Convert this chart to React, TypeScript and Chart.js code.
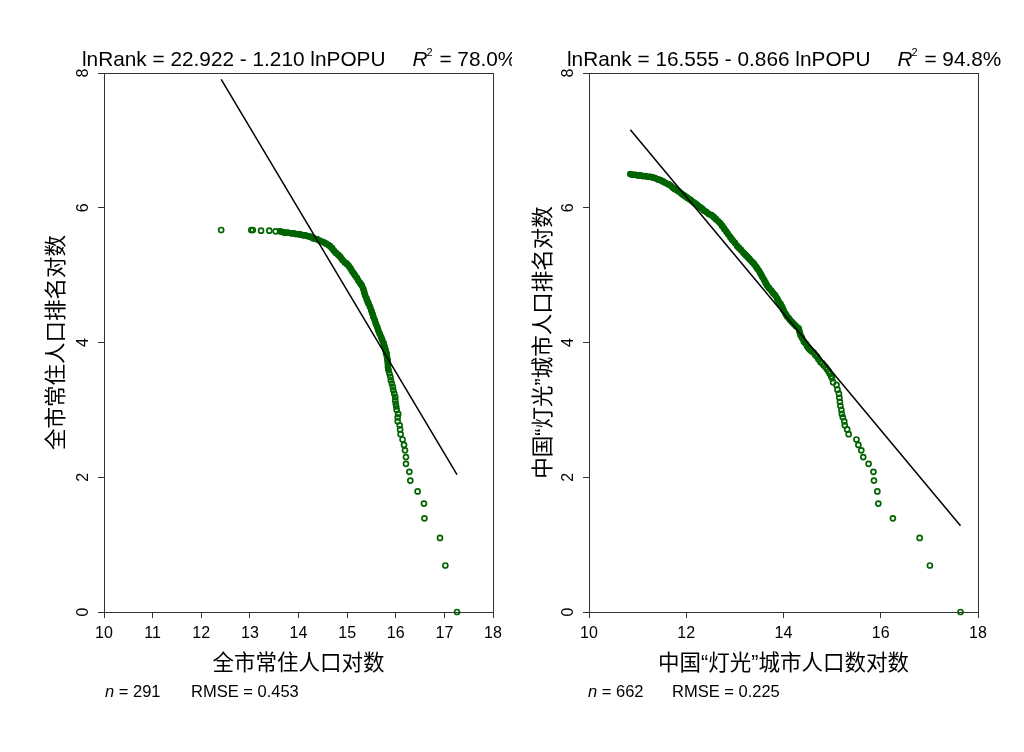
import React, { useEffect, useRef } from 'react';
import { Chart, registerables } from 'chart.js';

Chart.register(...registerables);

const FONT = '"Liberation Sans", Arial, Helvetica, sans-serif';
const CJK = '"Liberation Sans", "Noto Sans CJK SC", sans-serif';
const GREEN = '#006400';

// ---------- Left panel data (lnPOPU, lnRank) ----------
const leftX = [
  12.41, 13.03, 13.06, 13.23, 13.40, 13.53, 13.62, 13.68, 13.72, 13.78,
  13.85, 13.90, 13.95, 14.00, 14.05, 14.10, 14.14, 14.19, 14.24, 14.29,
  14.34, 14.39, 14.44, 14.51, 14.56, 14.61, 14.65, 14.69, 14.73, 14.77,
  14.82, 14.86, 14.90, 14.95, 14.99, 15.03, 15.07, 15.10, 15.13, 15.16,
  15.20, 15.23, 15.27, 15.30, 15.33, 15.35, 15.37, 15.40, 15.42, 15.44,
  15.47, 15.50, 15.52, 15.54, 15.57, 15.59, 15.62, 15.64, 15.67, 15.70,
  15.72, 15.75, 15.77, 15.79, 15.80, 15.82, 15.83, 15.84, 15.84, 15.85,
  15.87, 15.89, 15.90, 15.92, 15.94, 15.95, 15.97, 15.99, 15.99, 16.00,
  16.01, 16.02,
  16.05, 16.04, 16.04, 16.08, 16.09, 16.10, 16.14, 16.17, 16.19, 16.21,
  16.21, 16.28, 16.30, 16.45, 16.58, 16.59, 16.91, 17.02, 17.26,
];
const leftY = [
  5.67, 5.67, 5.67, 5.66, 5.66, 5.65, 5.65, 5.64, 5.63, 5.63,
  5.62, 5.62, 5.61, 5.61, 5.60, 5.59, 5.59, 5.58, 5.57, 5.55,
  5.54, 5.53, 5.51, 5.49, 5.47, 5.45, 5.43, 5.40, 5.36, 5.33,
  5.30, 5.27, 5.23, 5.19, 5.17, 5.14, 5.10, 5.06, 5.03, 5.00,
  4.96, 4.92, 4.88, 4.85, 4.80, 4.75, 4.70, 4.65, 4.61, 4.58,
  4.53, 4.47, 4.43, 4.38, 4.33, 4.28, 4.23, 4.18, 4.13, 4.08,
  4.04, 3.99, 3.94, 3.89, 3.84, 3.79, 3.74, 3.69, 3.64, 3.59,
  3.54, 3.49, 3.44, 3.39, 3.34, 3.29, 3.24, 3.19, 3.14, 3.09,
  3.05, 3.00,
  2.94, 2.89, 2.83, 2.77, 2.71, 2.64, 2.56, 2.48, 2.40, 2.30,
  2.20, 2.08, 1.95, 1.79, 1.61, 1.39, 1.10, 0.69, 0.00,
];
// index range (start, end) where the markers overlap into a solid band
const leftDenseRange = [6, 70];
const leftFitX = [12.41, 17.26];
const leftIntercept = 22.922;
const leftSlope = 1.21;

// ---------- Right panel data ----------
const rightX = [
  10.85, 10.90, 10.95, 11.00, 11.06, 11.11, 11.16, 11.21, 11.26, 11.31,
  11.36, 11.42, 11.47, 11.52, 11.57, 11.63, 11.68, 11.72, 11.76, 11.81,
  11.85, 11.90, 11.94, 11.98, 12.02, 12.06, 12.10, 12.15, 12.19, 12.23,
  12.28, 12.32, 12.36, 12.41, 12.46, 12.52, 12.57, 12.61, 12.66, 12.70,
  12.74, 12.78, 12.82, 12.86, 12.91, 12.95, 13.00, 13.05, 13.09, 13.13,
  13.18, 13.22, 13.26, 13.30, 13.35, 13.39, 13.43, 13.46, 13.50, 13.53,
  13.56, 13.60, 13.63, 13.66, 13.70, 13.75, 13.79, 13.83, 13.87, 13.90,
  13.94, 13.97, 14.00, 14.04, 14.07, 14.11, 14.14, 14.18, 14.22, 14.26,
  14.31, 14.33, 14.35, 14.38, 14.42, 14.46, 14.49, 14.52, 14.55, 14.58,
  14.62, 14.65, 14.69, 14.72, 14.76, 14.80, 14.83, 14.87, 14.90, 14.93,
  14.95, 14.98, 15.00, 15.02, 15.09, 15.11, 15.14, 15.15, 15.16, 15.17,
  15.19,
  15.20, 15.22, 15.25, 15.26, 15.31, 15.34, 15.50, 15.54, 15.60, 15.64,
  15.75, 15.85, 15.86, 15.93, 15.95, 16.25, 16.80, 17.01, 17.64,
];
const rightY = [
  6.50, 6.49, 6.49, 6.48, 6.48, 6.47, 6.47, 6.46, 6.46, 6.45,
  6.44, 6.42, 6.41, 6.39, 6.37, 6.35, 6.33, 6.30, 6.28, 6.26,
  6.24, 6.21, 6.19, 6.17, 6.15, 6.13, 6.11, 6.08, 6.06, 6.04,
  6.01, 5.99, 5.96, 5.94, 5.91, 5.89, 5.86, 5.83, 5.80, 5.77,
  5.73, 5.69, 5.65, 5.61, 5.56, 5.52, 5.48, 5.43, 5.40, 5.37,
  5.33, 5.30, 5.27, 5.24, 5.20, 5.17, 5.13, 5.10, 5.06, 5.02,
  4.98, 4.93, 4.89, 4.85, 4.81, 4.77, 4.73, 4.70, 4.65, 4.61,
  4.57, 4.53, 4.48, 4.43, 4.39, 4.36, 4.33, 4.30, 4.27, 4.24,
  4.21, 4.16, 4.11, 4.07, 4.01, 3.98, 3.94, 3.91, 3.89, 3.87,
  3.85, 3.82, 3.79, 3.75, 3.71, 3.69, 3.66, 3.63, 3.60, 3.57,
  3.54, 3.50, 3.47, 3.41, 3.37, 3.30, 3.24, 3.18, 3.12, 3.06,
  3.00,
  2.94, 2.89, 2.83, 2.77, 2.71, 2.64, 2.56, 2.48, 2.40, 2.30,
  2.20, 2.08, 1.95, 1.79, 1.61, 1.39, 1.10, 0.69, 0.00,
];
const rightDenseRange = [0, 89];
const rightFitX = [10.85, 17.64];
const rightIntercept = 16.555;
const rightSlope = 0.866;

const leftText = {
  eq: 'lnRank = 22.922 - 1.210 lnPOPU',
  r2: '78.0%',
  n: '291',
  rmse: '0.453',
  xTitle: '全市常住人口对数',
  yTitle: '全市常住人口排名对数',
};
const rightText = {
  eq: 'lnRank = 16.555 - 0.866 lnPOPU',
  r2: '94.8%',
  n: '662',
  rmse: '0.225',
  xTitle: '中国“灯光”城市人口数对数',
  yTitle: '中国“灯光”城市人口排名对数',
};

type Spec = {
  xs: number[]; ys: number[]; dense: number[]; fitX: number[]; a: number; b: number;
  text: typeof leftText; xStep: number;
  yWidth: number; padRight: number; yTitlePad: number;
  eqX: number; nX: number; rmseX: number;
};

function annotPlugin(p: Spec) {
  return {
    id: 'annot',
    afterDraw(chart: any) {
      const ctx = chart.ctx as CanvasRenderingContext2D;
      const a = chart.chartArea;
      ctx.save();
      // box
      ctx.strokeStyle = '#333';
      ctx.lineWidth = 1;
      const l = Math.round(a.left) + 0.5;
      const t = Math.round(a.top) + 0.5;
      const r = Math.round(a.right) + 0.5;
      const b = Math.round(a.bottom) + 0.5;
      ctx.strokeRect(l, t, r - l, b - t);
      // equation
      ctx.fillStyle = '#000';
      ctx.textAlign = 'left';
      ctx.textBaseline = 'alphabetic';
      const fs = 20.8;
      ctx.font = `${fs}px ${FONT}`;
      ctx.fillText(p.text.eq, p.eqX, 66);
      let x = p.eqX + ctx.measureText(p.text.eq).width + 27;
      ctx.font = `italic ${fs}px ${FONT}`;
      ctx.fillText('R', x, 66);
      x += ctx.measureText('R').width;
      ctx.font = `11px ${FONT}`;
      ctx.fillText('2', x - 1, 56);
      x += ctx.measureText('2').width;
      ctx.font = `${fs}px ${FONT}`;
      ctx.fillText(' = ' + p.text.r2, x, 66);
      // n and RMSE
      const fs2 = 16.5;
      ctx.font = `italic ${fs2}px ${FONT}`;
      ctx.fillText('n', p.nX, 697);
      const nw = ctx.measureText('n').width;
      ctx.font = `${fs2}px ${FONT}`;
      ctx.fillText(' = ' + p.text.n, p.nX + nw, 697);
      ctx.fillText('RMSE = ' + p.text.rmse, p.rmseX, 697);
      ctx.restore();
    },
  };
}

function buildConfig(p: Spec): any {
  const points = p.xs.map((x, i) => ({ x, y: p.ys[i] }));
  const band = points.slice(p.dense[0], p.dense[1]);
  const fit = p.fitX.map((x) => ({ x, y: p.a - p.b * x }));
  return {
    type: 'scatter',
    data: {
      datasets: [
        {
          type: 'line',
          data: fit,
          borderColor: '#000',
          borderWidth: 1.5,
          pointRadius: 0,
          fill: false,
          order: 0,
        },
        {
          type: 'scatter',
          data: points,
          pointStyle: 'circle',
          pointRadius: 2.5,
          pointBorderWidth: 1.7,
          borderWidth: 1.7,
          pointBorderColor: GREEN,
          borderColor: GREEN,
          pointBackgroundColor: 'rgba(0,0,0,0)',
          backgroundColor: 'rgba(0,0,0,0)',
          clip: false,
          order: 1,
        },
        {
          type: 'line',
          data: band,
          borderColor: GREEN,
          borderWidth: 6,
          borderCapStyle: 'round',
          borderJoinStyle: 'round',
          pointRadius: 0,
          tension: 0,
          fill: false,
          order: 2,
        },
      ],
    },
    options: {
      responsive: false,
      animation: false,
      devicePixelRatio: 1,
      events: [],
      layout: { padding: { left: 0, right: p.padRight, top: 73, bottom: 0 } },
      plugins: {
        legend: { display: false },
        tooltip: { enabled: false },
        title: { display: false },
      },
      scales: {
        x: {
          type: 'linear',
          position: 'bottom',
          min: 10,
          max: 18,
          ticks: {
            stepSize: p.xStep,
            font: { family: FONT, size: 16 },
            color: '#000',
            padding: 6,
            maxRotation: 0,
            autoSkip: false,
          },
          grid: { drawOnChartArea: false, drawTicks: true, tickLength: 6, color: '#333' },
          border: { display: false },
          title: {
            display: true,
            text: p.text.xTitle,
            font: { family: CJK, size: 21.5 },
            color: '#000',
            padding: { top: 0, bottom: 75 },
          },
          afterFit: (s: any) => { s.height = 140; },
        },
        y: {
          type: 'linear',
          position: 'left',
          min: 0,
          max: 8,
          ticks: {
            stepSize: 2,
            font: { family: FONT, size: 16 },
            color: '#000',
            padding: 10,
            minRotation: 90,
            maxRotation: 90,
            crossAlign: 'center',
          },
          grid: { drawOnChartArea: false, drawTicks: true, tickLength: 6, color: '#333' },
          border: { display: false },
          title: {
            display: true,
            text: p.text.yTitle,
            font: { family: CJK, size: 21.5 },
            color: '#000',
            padding: { top: p.yTitlePad, bottom: 0 },
          },
          afterFit: (s: any) => { s.width = p.yWidth; },
        },
      },
    },
    plugins: [annotPlugin(p)],
  };
}

const leftSpec: Spec = {
  xs: leftX, ys: leftY, dense: leftDenseRange, fitX: leftFitX, a: leftIntercept, b: leftSlope,
  text: leftText, xStep: 1,
  yWidth: 104, padRight: 19, yTitlePad: 44.6,
  eqX: 82, nX: 105, rmseX: 191,
};
const rightSpec: Spec = {
  xs: rightX, ys: rightY, dense: rightDenseRange, fitX: rightFitX, a: rightIntercept, b: rightSlope,
  text: rightText, xStep: 2,
  yWidth: 77, padRight: 46, yTitlePad: 19.1,
  eqX: 55, nX: 76, rmseX: 160,
};

function Panel({ spec, left }: { spec: Spec; left: number }) {
  const ref = useRef<HTMLCanvasElement>(null);
  useEffect(() => {
    const chart = new Chart(ref.current as HTMLCanvasElement, buildConfig(spec));
    return () => chart.destroy();
  }, [spec]);
  return (
    <canvas
      ref={ref}
      width={512}
      height={752}
      style={{ position: 'absolute', left, top: 0, width: 512, height: 752, display: 'block' }}
    />
  );
}

export default function App() {
  return (
    <div style={{ position: 'absolute', left: 0, top: 0, width: 1024, height: 752, background: '#fff' }}>
      <Panel spec={leftSpec} left={0} />
      <Panel spec={rightSpec} left={512} />
    </div>
  );
}
